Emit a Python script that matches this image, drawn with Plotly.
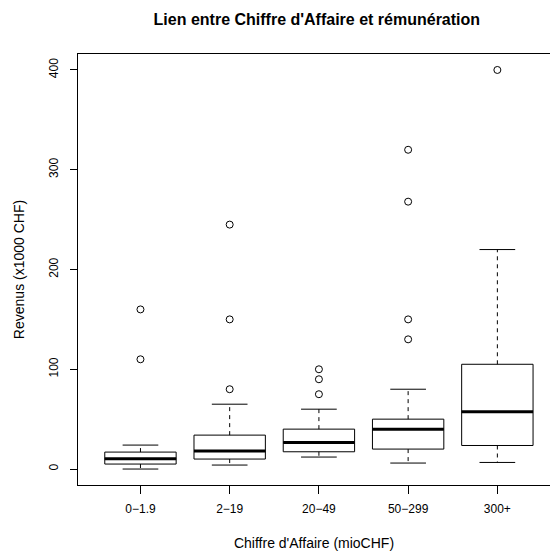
import plotly.graph_objects as go

# categories and box statistics
categories = ["0\u22121.9", "2\u221219", "20\u221249", "50\u2212299", "300+"]
lower = [0, 4, 12, 6, 6.6]
q1 = [5, 10, 17.3, 20, 23.6]
median = [10.3, 18, 26.7, 40, 57.4]
q3 = [17, 34, 40, 50, 105]
upper = [24, 65, 60, 80, 220]
outliers = [[160, 110], [245, 150, 80], [100, 90, 75], [320, 268, 150, 130], [400]]
y_ticks = [0, 100, 200, 300, 400]

FONT = "Liberation Sans, Arial, Helvetica, sans-serif"
pos = list(range(1, len(categories) + 1))

fig = go.Figure()

# dashed whiskers
wx, wy = [], []
for i, p in enumerate(pos):
    wx += [p, p, None, p, p, None]
    wy += [q3[i], upper[i], None, q1[i], lower[i], None]
fig.add_trace(go.Scatter(x=wx, y=wy, mode="lines",
                         line=dict(color="black", width=1, dash="4px,4px"),
                         hoverinfo="skip", showlegend=False))

# staples
sx, sy = [], []
for i, p in enumerate(pos):
    sx += [p - 0.2, p + 0.2, None, p - 0.2, p + 0.2, None]
    sy += [upper[i], upper[i], None, lower[i], lower[i], None]
fig.add_trace(go.Scatter(x=sx, y=sy, mode="lines",
                         line=dict(color="black", width=1),
                         hoverinfo="skip", showlegend=False))

# boxes
fig.add_trace(go.Box(x=pos, q1=q1, median=median, q3=q3,
                     lowerfence=q1, upperfence=q3,
                     width=0.8, whiskerwidth=0,
                     fillcolor="white", line=dict(color="black", width=1),
                     hoverinfo="skip", showlegend=False))

# thick medians
mx, my = [], []
for i, p in enumerate(pos):
    mx += [p - 0.4, p + 0.4, None]
    my += [median[i], median[i], None]
fig.add_trace(go.Scatter(x=mx, y=my, mode="lines",
                         line=dict(color="black", width=3),
                         hoverinfo="skip", showlegend=False))

# outliers
ox, oy = [], []
for p, vals in zip(pos, outliers):
    for v in vals:
        ox.append(p)
        oy.append(v)
fig.add_trace(go.Scatter(x=ox, y=oy, mode="markers",
                         marker=dict(symbol="circle-open", size=7, color="black",
                                     line=dict(width=1)),
                         hoverinfo="skip", showlegend=False))

fig.update_layout(
    width=550, height=552,
    margin=dict(l=78, r=0, t=54, b=67),
    paper_bgcolor="white", plot_bgcolor="white",
    font=dict(family=FONT, size=12, color="black"),
    title=dict(text="Lien entre Chiffre d'Affaire et rémunération",
               font=dict(family=FONT, size=16, weight="bold"),
               x=0.506, xref="paper", xanchor="center",
               y=1 - 19 / 552, yref="container", yanchor="middle"),
    xaxis=dict(range=[0.3, 5.59], tickvals=pos, ticktext=categories,
               automargin=False,
               showline=True, mirror=True, linecolor="black", linewidth=1,
               ticks="outside", ticklen=8, tickcolor="black",
               showgrid=False, zeroline=False,
               ticklabelstandoff=5,
               title=dict(text="Chiffre d'Affaire (mioCHF)", standoff=22)),
    yaxis=dict(range=[-16, 416], tickvals=y_ticks,
               automargin=False,
               showline=True, linecolor="black", linewidth=1,
               ticks="outside", ticklen=7, tickcolor="black",
               showgrid=False, zeroline=False, tickangle=-90,
               ticklabelstandoff=7,
               title=dict(text="Revenus (x1000 CHF)", standoff=19)),
)

# the page's default body margin would shift the figure by 8px
fig.write_html("out.html", config={"displayModeBar": False},
               post_script="document.body.style.margin = '0';")
